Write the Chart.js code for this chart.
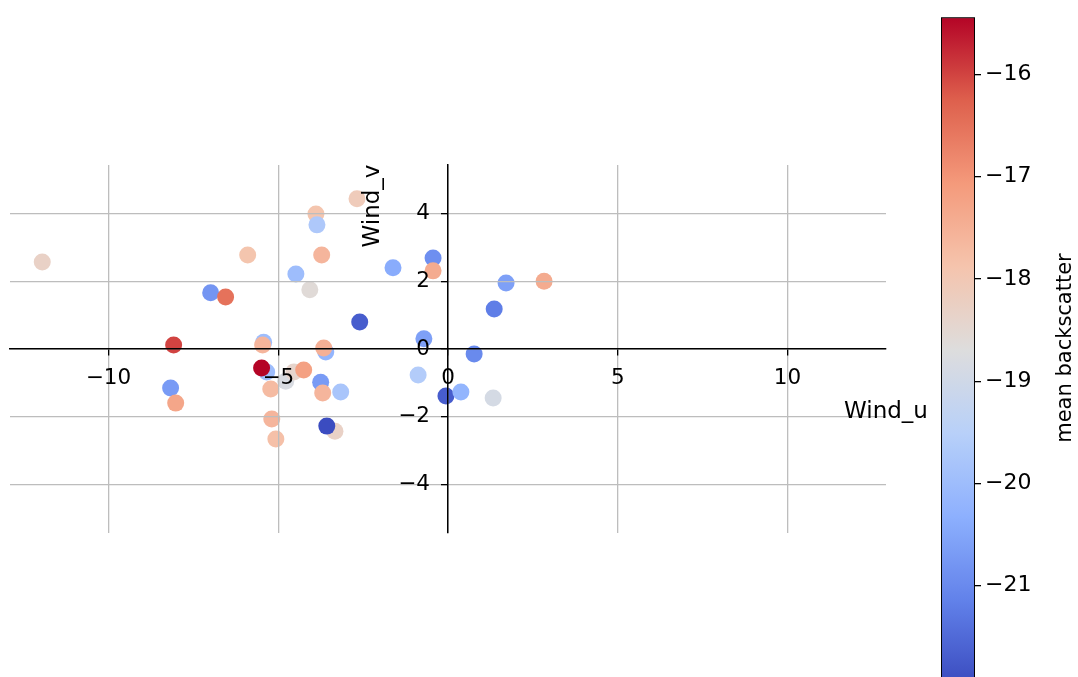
<!DOCTYPE html>
<html>
<head>
<meta charset="utf-8">
<script src="https://cdn.jsdelivr.net/npm/chart.js@4.4.0/dist/chart.umd.min.js"></script>
<style>
  html, body { margin: 0; padding: 0; background: #fff; overflow: hidden; }
  #main { position: absolute; left: 0; top: 0; width: 940px; height: 677px; }
  #cbar { position: absolute; left: 900px; top: 0; width: 178px; height: 700px; }
</style>
</head>
<body>
<div id="main"><canvas id="chart"></canvas></div>
<div id="cbar"><canvas id="colorbar"></canvas></div>
<script>
const windU = [-11.95, -5.90, -6.99, -6.55, -8.08, -5.43, -5.46, -2.68, -3.89, -3.86, -3.72, -4.48, -4.07,
  -1.62, -0.44, -0.44, -2.60, -0.71, -3.60, -3.66, 1.71, 2.83, 1.36, 0.77, -0.88, -0.06, 0.38, 1.33,
  -5.34, -5.49, -4.78, -4.54, -4.25, -5.22, -3.75, -3.69, -3.16, -8.17, -8.02, -5.19, -5.07, -3.33, -3.57];
const windV = [2.57, 2.78, 1.66, 1.54, 0.12, 0.20, 0.12, 4.44, 3.99, 3.67, 2.78, 2.22, 1.75,
  2.40, 2.69, 2.31, 0.80, 0.30, -0.09, 0.03, 1.95, 2.00, 1.18, -0.15, -0.77, -1.39, -1.27, -1.45,
  -0.68, -0.56, -0.95, -0.68, -0.62, -1.18, -0.98, -1.30, -1.27, -1.15, -1.60, -2.07, -2.66, -2.43, -2.28];
const backscatter = [-18.3, -17.9, -20.8, -16.5, -16.0, -20.0, -17.6, -18.1, -17.9, -19.7, -17.6, -20.0, -18.6,
  -20.4, -20.9, -17.4, -21.7, -20.6, -20.2, -17.5, -20.6, -17.4, -21.2, -21.0, -19.6, -21.7, -20.2, -18.9,
  -20.0, -15.44, -18.8, -18.4, -17.2, -17.7, -20.7, -17.6, -19.8, -20.7, -17.3, -17.6, -17.8, -18.3, -21.95];
const xTicks = [-10, -5, 0, 5, 10];
const yTicks = [-4, -2, 0, 2, 4];
const cbarTicks = [-21, -20, -19, -18, -17, -16];

const vmin = Math.min(...backscatter);
const vmax = Math.max(...backscatter);

// coolwarm colormap stops
const cw = [[59,76,192],[98,130,234],[141,176,254],[184,208,249],[221,221,221],
  [245,196,173],[244,154,123],[222,96,77],[180,4,38]];
function coolwarm(t) {
  t = Math.max(0, Math.min(1, t));
  const p = t * (cw.length - 1);
  const i = Math.min(Math.floor(p), cw.length - 2);
  const f = p - i;
  const c = cw[i].map((v, k) => Math.round(v + (cw[i + 1][k] - v) * f));
  return `rgb(${c[0]},${c[1]},${c[2]})`;
}

const FONT = 'DejaVu Sans';
const minus = v => String(v).replace('-', '\u2212');

const points = windU.map((u, i) => ({ x: u, y: windV[i] }));
const colors = backscatter.map(b => coolwarm((b - vmin) / (vmax - vmin)));

const axisTitles = {
  id: 'axisTitles',
  afterDraw(chart) {
    const { ctx, chartArea, scales } = chart;
    ctx.save();
    ctx.fillStyle = '#000';
    ctx.font = `23px "${FONT}"`;
    ctx.textAlign = 'center';
    ctx.textBaseline = 'middle';
    ctx.fillText('Wind_u', chartArea.right, scales.y.getPixelForValue(0) + 63);
    ctx.translate(scales.x.getPixelForValue(0) - 75, scales.y.getPixelForValue(0) - 143);
    ctx.rotate(-Math.PI / 2);
    ctx.fillText('Wind_v', 0, 0);
    ctx.restore();
  }
};

const gridOpts = { z: 1, color: '#bdbdbd', lineWidth: 1.3, tickColor: '#000', tickLength: 6, tickWidth: 1.3 };

const ctx = document.getElementById('chart').getContext('2d');
const chart = new Chart(ctx, {
  type: 'scatter',
  data: {
    datasets: [{
      data: points,
      backgroundColor: colors,
      borderWidth: 0,
      pointRadius: 8.5,
      pointHoverRadius: 8.5
    }]
  },
  options: {
    responsive: true,
    maintainAspectRatio: false,
    animation: false,
    layout: { padding: { left: 10, top: 165, right: 54, bottom: 144 } },
    plugins: { legend: { display: false }, tooltip: { enabled: false } },
    scales: {
      x: {
        type: 'linear',
        min: -12.9, max: 12.9,
        position: { y: 0 },
        afterBuildTicks: s => { s.ticks = xTicks.map(v => ({ value: v })); },
        grid: gridOpts,
        border: { z: 2, color: '#000', width: 1.5 },
        ticks: { z: 1, color: '#000', font: { family: FONT, size: 21.5 }, padding: 11, maxRotation: 0, callback: v => minus(v) }
      },
      y: {
        type: 'linear',
        min: -5.44, max: 5.44,
        position: { x: 0 },
        afterBuildTicks: s => { s.ticks = yTicks.map(v => ({ value: v })); },
        grid: gridOpts,
        border: { z: 2, color: '#000', width: 1.5 },
        // labels of a value-positioned axis ignore padding, so trailing spaces keep them off the tick marks
        ticks: { z: 1, color: '#000', font: { family: FONT, size: 21.5 }, callback: v => minus(v) + '  \u2009' }
      }
    }
  },
  plugins: [axisTitles]
});

// colorbar
const cbarTitle = {
  id: 'cbarTitle',
  afterDraw(c) {
    const { ctx, chartArea } = c;
    ctx.save();
    ctx.fillStyle = '#000';
    ctx.font = `21px "${FONT}"`;
    ctx.textAlign = 'center';
    ctx.textBaseline = 'middle';
    ctx.translate(chartArea.right + 91, 348);
    ctx.rotate(-Math.PI / 2);
    ctx.fillText('mean backscatter', 0, 0);
    ctx.restore();
  }
};

const cctx = document.getElementById('colorbar').getContext('2d');
new Chart(cctx, {
  type: 'bar',
  data: {
    labels: ['cbar'],
    datasets: [{
      data: [[vmin, vmax]],
      backgroundColor: (context) => {
        const area = context.chart.chartArea;
        if (!area) return '#ccc';
        const g = context.chart.ctx.createLinearGradient(0, area.bottom, 0, area.top);
        for (let i = 0; i <= 40; i++) g.addColorStop(i / 40, coolwarm(i / 40));
        return g;
      },
      borderColor: '#000',
      borderWidth: 1.3,
      borderSkipped: false,
      barPercentage: 1,
      categoryPercentage: 1
    }]
  },
  options: {
    responsive: true,
    maintainAspectRatio: false,
    animation: false,
    layout: { padding: { left: 41, top: 14, right: 43, bottom: 0 } },
    plugins: { legend: { display: false }, tooltip: { enabled: false } },
    scales: {
      x: { display: false },
      y: {
        position: 'right',
        min: vmin, max: vmax,
        afterBuildTicks: s => { s.ticks = cbarTicks.map(v => ({ value: v })); },
        afterFit: s => { s.width = 60; },
        grid: { drawOnChartArea: false, color: '#000', tickLength: 6, lineWidth: 1.3 },
        border: { display: false },
        ticks: { color: '#000', font: { family: FONT, size: 22 }, padding: 4, callback: v => minus(v) }
      }
    }
  },
  plugins: [cbarTitle]
});
</script>
</body>
</html>
